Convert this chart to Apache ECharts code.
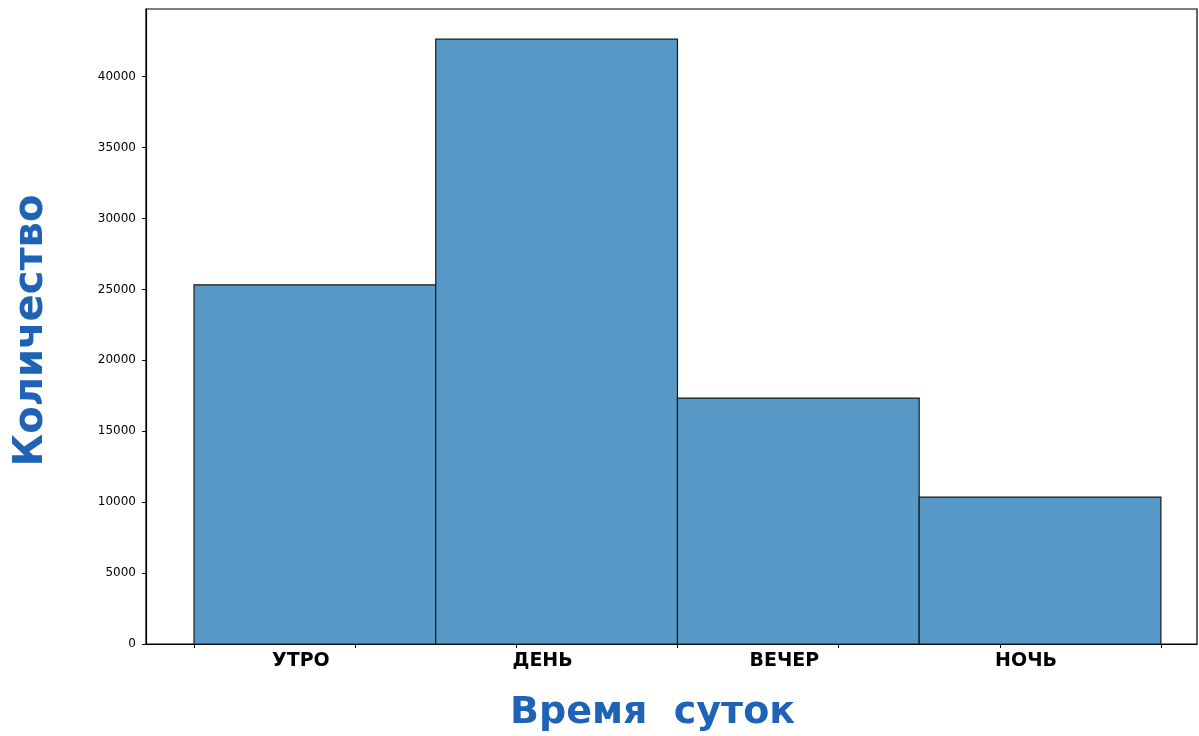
<!DOCTYPE html>
<html>
<head>
<meta charset="utf-8">
<title>Время суток</title>
<script src="https://cdn.jsdelivr.net/npm/echarts@6/dist/echarts.min.js"></script>
<style>
  html, body { margin: 0; padding: 0; background: #fff; }
  #chart { width: 1199px; height: 736px; }
</style>
</head>
<body>
<div id="chart"></div>
<script>
// данные гистограммы
var categories = ['УТРО', 'ДЕНЬ', 'ВЕЧЕР', 'НОЧЬ'];
var binEdges = [0, 0.75, 1.5, 2.25, 3];
var counts = [25320, 42640, 17340, 10360];
var xTicks = [0, 0.5, 1, 1.5, 2, 2.5, 3];
var yTicks = [0, 5000, 10000, 15000, 20000, 25000, 30000, 35000, 40000];

var titleColor = '#1e63b6';

// центры бинов - места подписей
var labelPos = [];
for (var i = 0; i < categories.length; i++) {
	labelPos.push((binEdges[i] + binEdges[i + 1]) / 2);
}

var barData = [];
for (var i = 0; i < counts.length; i++) {
	barData.push([binEdges[i], binEdges[i + 1], counts[i]]);
}

var option = {
	animation: false,
	backgroundColor: '#fff',
	grid: {
		left: 146, right: 2, top: 9, bottom: 92,
		containLabel: false,
		outerBoundsMode: 'none',
		show: true,
		borderColor: '#000',
		borderWidth: 1.2
	},
	xAxis: {
		type: 'value',
		min: -0.149,
		max: 3.112,
		name: 'Время  суток',
		nameLocation: 'middle',
		nameGap: 50,
		nameTextStyle: {
			fontFamily: 'DejaVu Sans', fontWeight: 'bold', fontSize: 38, color: titleColor,
			padding: [0, 38, 0, 0]
		},
		splitLine: {show: false},
		axisLine: {show: true, onZero: false, lineStyle: {color: '#000', width: 1.2}},
		axisTick: {show: true, customValues: xTicks, length: 4, lineStyle: {color: '#000'}},
		axisLabel: {
			customValues: labelPos,
			margin: 8,
			padding: [0, 28, 0, 0],
			fontFamily: 'DejaVu Sans', fontWeight: 'bold', fontSize: 19, color: '#000',
			formatter: function (v) {
				for (var i = 0; i < labelPos.length; i++) {
					if (Math.abs(labelPos[i] - v) < 1e-6) return categories[i];
				}
				return '';
			}
		}
	},
	yAxis: {
		type: 'value',
		min: 0,
		max: 44770,
		name: 'Количество',
		nameLocation: 'middle',
		nameRotate: 90,
		nameGap: 94,
		nameTextStyle: {
			fontFamily: 'DejaVu Sans', fontWeight: 'bold', fontSize: 40, color: titleColor,
			padding: [0, 8, 0, 0]
		},
		splitLine: {show: false},
		axisLine: {show: true, onZero: false, lineStyle: {color: '#000', width: 1.2}},
		axisTick: {show: true, customValues: yTicks, length: 4, lineStyle: {color: '#000'}},
		axisLabel: {
			customValues: yTicks,
			margin: 10,
			fontFamily: 'DejaVu Sans', fontSize: 12, color: '#000',
			formatter: function (v) { return String(v); }
		}
	},
	series: [
		{
			type: 'custom',
			data: barData,
			encode: {x: [0, 1], y: 2},
			renderItem: function (params, api) {
				var p0 = api.coord([api.value(0), api.value(2)]);
				var p1 = api.coord([api.value(1), 0]);
				return {
					type: 'rect',
					shape: {x: p0[0], y: p0[1], width: p1[0] - p0[0], height: p1[1] - p0[1]},
					style: {fill: '#5799c6', stroke: '#1a1a1a', lineWidth: 1.2}
				};
			}
		}
	]
};

var myChart = echarts.init(document.getElementById('chart'));
myChart.setOption(option);
</script>
</body>
</html>
